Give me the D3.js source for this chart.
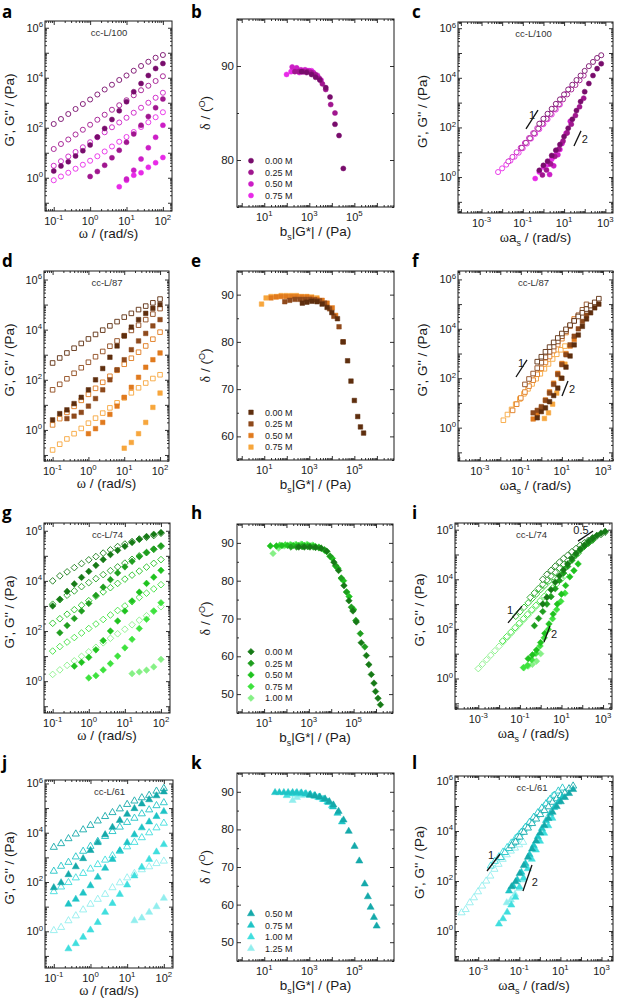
<!DOCTYPE html>
<html><head><meta charset="utf-8">
<script src="https://cdn.jsdelivr.net/npm/d3@7"></script>
<style>body{margin:0;background:#fff}svg{display:block}</style>
</head><body>
<svg id="fig" width="618" height="1000"></svg>
<script>
// ---------------- DATA ----------------
const freq = [0.1,0.158,0.251,0.398,0.631,1,1.58,2.51,3.98,6.31,10,15.8,25.1,39.8,63.1,100];

// ---- cc-L/100 (row 1) ; moduli given as log10(Pa)
const salt1 = ["0.00 M","0.25 M","0.50 M","0.75 M"];
const logGpp1 = [
 [2.15,2.35,2.55,2.75,2.95,3.13,3.33,3.53,3.72,3.91,4.09,4.28,4.47,4.64,4.80,4.91],
 [1.15,1.35,1.53,1.73,1.92,2.12,2.32,2.52,2.72,2.90,3.10,3.30,3.50,3.68,3.87,4.06],
 [0.48,0.66,0.85,1.03,1.22,1.42,1.62,1.82,2.02,2.21,2.40,2.60,2.80,3.00,3.20,3.40],
 [-0.10,0.05,0.20,0.36,0.52,0.68,0.86,1.05,1.25,1.44,1.63,1.83,2.03,2.22,2.42,2.62]];
const logGp1 = [
 [0.27,0.47,0.64,0.87,1.08,1.31,1.63,1.97,2.33,2.68,3.04,3.44,3.77,4.09,4.37,4.57],
 [null,null,null,null,null,0.05,0.25,0.50,0.80,1.10,1.42,1.75,2.10,2.45,2.80,3.15],
 [null,null,null,null,null,null,null,null,null,null,-0.05,0.30,0.75,1.20,1.62,2.10],
 [null,null,null,null,null,null,null,null,null,-0.36,-0.10,0.10,0.20,0.42,0.60,0.81]];
const logA1 = [0.8,-0.05,-0.7,-1.2];    // log10 a_s
const logB1 = [0,0.03,0.15,0.3];        // log10 b_s
const dX1 = [
 [2.66,2.88,3.10,3.28,3.47,3.73,3.92,4.14,4.32,4.51],
 [2.36,2.54,2.73,2.91,3.09,3.27,3.44,3.58,3.73,3.95,4.14],
 [2.24,2.44,2.63,2.81,2.99,3.18,3.36,3.52],
 [1.99,2.19,2.36,2.56,2.73,2.93,3.10]];
const dY1 = [
 [89.4,89.3,89.1,88.8,88.5,87.7,86.7,83.8,82.6,79.1],
 [89.4,89.4,89.4,89.4,89.3,89.1,88.7,88.1,87.5,85.9,85.0],
 [89.9,89.8,89.6,89.6,89.5,89.3,89.0,88.5],
 [89.1,89.4,89.5,89.3,89.4,89.5,89.5]];

// ---- cc-L/87 (row 2)
const salt2 = ["0.00 M","0.25 M","0.50 M","0.75 M"];
const logGpp2 = [
 [2.67,2.87,3.07,3.26,3.45,3.63,3.81,3.98,4.15,4.32,4.50,4.65,4.80,4.94,5.07,5.22],
 [1.60,1.82,2.04,2.26,2.48,2.70,2.92,3.13,3.34,3.55,3.76,3.97,4.18,4.40,4.62,4.84],
 [0.20,0.45,0.70,0.94,1.18,1.42,1.66,1.90,2.14,2.38,2.62,2.86,3.10,3.35,3.62,3.90],
 [-0.80,-0.57,-0.36,-0.15,0.06,0.27,0.47,0.67,0.88,1.08,1.28,1.48,1.68,1.87,2.05,2.20]];
const logGp2 = [
 [0.40,0.65,0.80,1.05,1.30,1.60,2.00,2.45,2.90,3.35,3.75,4.10,4.40,4.65,4.85,5.00],
 [null,null,0.45,0.55,0.70,0.95,1.25,1.60,2.00,2.40,2.80,3.20,3.55,3.85,4.15,4.40],
 [null,null,null,null,null,-0.15,0.05,0.30,0.62,0.95,1.30,1.70,2.10,2.50,2.80,3.07],
 [null,null,null,null,null,null,null,null,null,null,-0.73,-0.50,-0.15,0.30,0.90,1.47]];
const logA2 = [0.8,0.2,-0.4,-0.85];
const logB2 = [0,0.15,0.5,1.1];
const dX2 = [
 [2.69,2.89,3.11,3.34,3.57,3.79,4.00,4.25,4.50,4.70,4.85,5.00,5.15,5.27,5.41],
 [1.91,2.13,2.36,2.58,2.80,3.02,3.24,3.46,3.68,3.90,4.09,4.32,4.50],
 [1.30,1.53,1.75,1.98,2.21,2.43,2.66,2.89,3.11,3.34,3.57,3.79,4.02,4.17],
 [0.88,1.08,1.30,1.53,1.75,1.98,2.21,2.43,2.66,2.89,3.11,3.34]];
const dY2 = [
 [88.2,88.4,88.6,88.5,88.0,87.3,86.2,84.9,80.0,76.0,71.7,67.6,64.2,62.0,60.7],
 [88.5,88.8,89.0,89.0,89.0,89.0,88.9,88.7,88.2,87.0,85.4,83.2,80.0],
 [89.3,89.5,89.6,89.6,89.6,89.6,89.5,89.5,89.3,89.0,88.8,88.2,87.2,85.6],
 [88.0,89.3,89.6,89.6,89.8,89.8,89.8,89.8,89.6,89.6,89.5,89.3]];

// ---- cc-L/74 (row 3)
const salt3 = ["0.00 M","0.25 M","0.50 M","0.75 M","1.00 M"];
const logGpp3 = [
 [4.00,4.20,4.36,4.53,4.69,4.84,4.97,5.11,5.24,5.37,5.47,5.57,5.67,5.74,5.81,5.90],
 [3.07,3.25,3.43,3.60,3.77,3.93,4.09,4.25,4.41,4.56,4.71,4.86,5.00,5.13,5.26,5.38],
 [2.31,2.49,2.67,2.85,3.03,3.21,3.39,3.56,3.73,3.90,4.07,4.23,4.39,4.55,4.70,4.85],
 [1.20,1.38,1.56,1.74,1.92,2.10,2.28,2.46,2.64,2.82,3.00,3.17,3.34,3.51,3.68,3.85],
 [0.27,0.45,0.63,0.81,0.99,1.17,1.35,1.53,1.71,1.89,2.07,2.25,2.43,2.61,2.79,2.97]];
const logGp3 = [
 [3.00,3.27,3.58,3.88,4.14,4.38,4.62,4.85,5.05,5.22,5.38,5.53,5.66,5.77,5.86,5.93],
 [null,1.93,2.22,2.50,2.80,3.10,3.42,3.75,4.05,4.32,4.56,4.78,4.97,5.13,5.27,5.40],
 [null,null,null,0.60,0.75,0.95,1.25,1.62,2.00,2.40,2.80,3.20,3.55,3.90,4.15,4.42],
 [null,null,null,null,null,0.13,0.22,0.45,0.70,1.00,1.33,1.67,2.10,2.47,2.80,3.13],
 [null,null,null,null,null,null,null,null,null,null,null,0.30,0.37,0.44,0.57,0.87]];
const logA3 = [1.1,0.5,-0.2,-0.83,-2.0];
const logB3 = [0,0.2,0.2,0.31,0.13];
const dX3 = [
 [2.55,2.80,3.05,3.30,3.55,3.80,4.12,4.33,4.57,4.79,4.97,5.12,5.34,5.57,5.68,5.79,5.91,5.98,6.09,6.20],
 [2.20,2.45,2.70,2.95,3.20,3.45,3.70,3.95,4.20,4.45,4.68,4.90,5.10,5.30,5.50],
 [1.28,1.55,1.80,2.05,2.30,2.55,2.80,3.05,3.30,3.55,3.80,4.05,4.30,4.55,4.80,5.00],
 [1.70,1.95,2.20,2.45,2.70,2.95,3.20,3.45,3.70,3.95,4.20,4.45,4.70],
 [1.40,1.65,1.90,2.15,2.40,2.65,2.90,3.15]];
const dY3 = [
 [88.9,88.9,88.9,88.8,88.6,87.8,84.9,82.7,78.7,74.7,72.0,69.1,63.6,60.2,57.8,55.2,52.9,50.7,48.9,47.2],
 [88.9,88.9,89.0,89.0,88.9,88.7,88.2,86.5,84.0,80.7,77.0,73.0,69.5,66.0,62.5],
 [89.2,89.2,89.3,89.3,89.3,89.3,89.3,89.2,89.0,88.6,87.7,85.9,83.3,80.0,75.8,72.4],
 [89.4,89.5,89.5,89.5,89.6,89.5,89.3,88.9,88.0,86.4,83.8,80.6,77.0],
 [87.2,88.6,89.2,89.5,89.6,89.7,89.6,89.4]];

// ---- cc-L/61 (row 4)
const salt4 = ["0.50 M","0.75 M","1.00 M","1.25 M"];
const logGpp4 = [
 [3.41,3.56,3.76,3.95,4.12,4.30,4.48,4.66,4.82,4.97,5.15,5.29,5.42,5.52,5.69,5.80],
 [2.44,2.64,2.80,3.02,3.25,3.45,3.65,3.85,4.05,4.23,4.42,4.59,4.77,4.93,5.10,5.22],
 [1.61,1.80,1.98,2.17,2.35,2.53,2.71,2.89,3.07,3.25,3.43,3.61,3.80,4.00,4.20,4.39],
 [0.03,0.16,0.43,0.63,0.87,1.10,1.30,1.50,1.77,1.97,2.17,2.35,2.50,2.62,2.75,2.85]];
const logGp4 = [
 [1.77,1.97,2.30,2.62,2.95,3.28,3.60,3.92,4.22,4.50,4.75,4.98,5.17,5.34,5.50,5.66],
 [null,null,1.10,1.30,1.55,1.85,2.20,2.56,2.92,3.27,3.60,3.92,4.20,4.44,4.66,4.86],
 [null,null,-0.71,-0.50,-0.24,0.05,0.36,0.77,1.13,1.50,1.88,2.25,2.60,2.92,3.22,3.52],
 [null,null,null,null,null,null,null,null,null,null,null,0.43,0.54,0.77,1.00,1.34]];
const logA4 = [-0.38,-0.9,-1.39,-2.81];
const logB4 = [0,0.5,0.99,0.7];
const dX4 = [
 [3.02,3.25,3.47,3.70,3.89,4.07,4.30,4.52,4.75,5.01,5.22,5.46,5.60,5.72,5.87,5.99],
 [1.48,1.67,1.87,2.06,2.26,2.45,2.65,2.85,3.05,3.25,3.45,3.65,3.85,4.05,4.25,4.45],
 [2.00,2.20,2.40,2.60,2.80,3.00,3.20,3.40,3.60,3.80,4.00],
 [2.26,2.45,2.65,2.85,3.05,3.25,3.45]];
const dY4 = [
 [89.1,88.9,88.6,88.1,87.4,86.5,84.8,82.5,79.5,75.5,71.6,65.5,62.1,59.3,56.6,54.3],
 [89.8,89.8,89.8,89.8,89.8,89.8,89.7,89.5,89.3,89.0,88.6,88.0,87.2,86.0,84.3,82.0],
 [89.0,89.4,89.5,89.5,89.4,89.2,88.9,88.5,88.0,87.3,86.3],
 [87.7,88.5,89.0,89.2,89.1,88.8,88.4]];

// slope guides on the master curves: [log x1, log y1, log x2, log y2], label, [log x, log y]
const guides1 = [[[-0.845,1.94,-0.264,2.70],"1",[-0.555,2.35]],[[1.48,1.25,1.82,1.86],"2",[2.01,1.38]]];
const guides2 = [[[-1.235,2.05,-0.699,2.74],"1",[-0.99,2.46]],[[1.006,1.28,1.298,1.89],"2",[1.49,1.40]]];
const guides3 = [[[-1.571,2.24,-0.897,2.92],"1",[-1.475,2.60]],[[0.161,1.47,0.449,2.12],"2",[0.64,1.63]],[[1.796,5.54,2.518,5.95],"0.5",[1.94,5.83]]];
const guides4 = [[[-2.573,2.40,-1.94,3.08],"1",[-2.38,2.87]],[[-0.821,1.60,-0.383,2.64],"2",[-0.24,1.80]]];

// ---------------- STYLE / LAYOUT ----------------
const rows = [
 {name:"cc-L/100", salt:salt1, gpp:logGpp1, gp:logGp1, la:logA1, lb:logB1, dx:dX1, dy:dY1, guides:guides1,
  colors:["#780c6c","#a0168f","#cc1ec6","#e82ae8"], sym:"circle",
  fr:[[45,21,172,211],[237,19,394,207],[458,22,613,213]], yl:[-1.33,6.27], yc:[-1.45,6.25], xc:[-4.14,3.37], dd:[75,95],
  letters:["a","b","c"], ly:18, legY:160.7},
 {name:"cc-L/87", salt:salt2, gpp:logGpp2, gp:logGp2, la:logA2, lb:logB2, dx:dX2, dy:dY2, guides:guides2,
  colors:["#5e2e0e","#8f4a1c","#e07a1e","#f7a63c"], sym:"square",
  fr:[[44,271,169,461],[237,271,394,460],[458,271,613,461]], yl:[-1.24,6.34], yc:[-1.35,6.34], xc:[-4.06,3.49], dd:[55,95],
  letters:["d","e","f"], ly:267, legY:412.3},
 {name:"cc-L/74", salt:salt3, gpp:logGpp3, gp:logGp3, la:logA3, lb:logB3, dx:dX3, dy:dY3, guides:guides3,
  colors:["#167a16","#1f9e1f","#1fc21f","#3ee23e","#86f086"], sym:"diamond",
  fr:[[44,523,170,713],[237,524,393,713],[455,523,612,709]], yl:[-1.27,6.31], yc:[-1.23,6.27], xc:[-4.12,3.43], dd:[45,95],
  letters:["g","h","i"], ly:519, legY:651.7},
 {name:"cc-L/61", salt:salt4, gpp:logGpp4, gp:logGp4, la:logA4, lb:logB4, dx:dX4, dy:dY4, guides:guides4,
  colors:["#15a9aa","#1fc4c6","#40dede","#92eeee"], sym:"triangle",
  fr:[[45,780,173,968],[237,773,394,961],[455,776,613,961]], yl:[-1.49,6.14], yc:[-1.2,6.2], xc:[-4.13,3.56], dd:[45,95],
  letters:["j","k","l"], ly:769, legY:913.7}
];

const FONT = "'Liberation Sans', Arial, Helvetica, sans-serif";
const SERIF = "'Liberation Serif','DejaVu Serif',serif";
const INK = "#1a1a1a";
const svg = d3.select("#fig");
svg.append("rect").attr("width",618).attr("height",1000).attr("fill","#fff");

const diamondSym = {draw(ctx,size){const r=Math.sqrt(size/2);ctx.moveTo(0,-r);ctx.lineTo(r,0);ctx.lineTo(0,r);ctx.lineTo(-r,0);ctx.closePath();}};
const symType = {circle:[d3.symbolCircle,20], square:[d3.symbolSquare,21], diamond:[diamondSym,22], triangle:[d3.symbolTriangle,22]};

function minorLog(lo,hi){const v=[];for(let n=Math.floor(lo);n<=Math.ceil(hi);n++)for(let m=2;m<=9;m++){const e=n+Math.log10(m);if(e>lo&&e<hi)v.push(m*Math.pow(10,n));}return v;}
function majorLog(lo,hi){const v=[];for(let n=Math.ceil(lo);n<=Math.floor(hi);n++)v.push(Math.pow(10,n));return v;}

function ticks(g, scale, orient, vals, size, tr){
  const fn = {bottom:d3.axisBottom,top:d3.axisTop,left:d3.axisLeft,right:d3.axisRight}[orient];
  const a = fn(scale).tickValues(vals).tickSizeInner(-size).tickSizeOuter(0).tickFormat("");
  const gg = g.append("g").attr("transform",tr).call(a);
  gg.select(".domain").remove();
  gg.selectAll("line").attr("stroke",INK).attr("stroke-width",0.9);
}
function powLabel(g, x, y, exp, anchor){
  const t = g.append("text").attr("x",x).attr("y",y).attr("text-anchor",anchor)
    .attr("font-family",FONT).attr("font-size",11).attr("fill",INK);
  t.append("tspan").text("10");
  t.append("tspan").attr("dy",-4.6).attr("font-size",7.8).text(exp);
  return t;
}
function frameAxes(g, fr, x, y, yLog, xDom, yDom, xLab, yLab){
  const [x0,y0,x1,y1]=fr;
  let yMaj, yMin;
  const xMaj=majorLog(xDom[0],xDom[1]), xMin=minorLog(xDom[0],xDom[1]);
  if(yLog){yMaj=majorLog(yDom[0],yDom[1]);yMin=minorLog(yDom[0],yDom[1]);}
  else{yMaj=d3.range(Math.ceil(yDom[0]/10)*10,yDom[1]+0.1,10);yMin=d3.range(Math.ceil(yDom[0]/5)*5,yDom[1]+0.1,5).filter(v=>v%10!==0);}
  ticks(g,x,"bottom",xMaj,4,`translate(0,${y1})`);
  ticks(g,x,"bottom",xMin,2,`translate(0,${y1})`);
  ticks(g,x,"top",xMaj,4,`translate(0,${y0})`);
  ticks(g,x,"top",xMin,2,`translate(0,${y0})`);
  ticks(g,y,"left",yMaj,4,`translate(${x0},0)`);
  ticks(g,y,"left",yMin,2,`translate(${x0},0)`);
  ticks(g,y,"right",yMaj,4,`translate(${x1},0)`);
  ticks(g,y,"right",yMin,2,`translate(${x1},0)`);
  g.append("rect").attr("x",x0).attr("y",y0).attr("width",x1-x0).attr("height",y1-y0)
    .attr("fill","none").attr("stroke",INK).attr("stroke-width",1);
  xLab.forEach(e=>powLabel(g,x(Math.pow(10,e)),y1+13.5,(e<0?"-":"")+Math.abs(e),"middle"));
  if(yLog) yLab.forEach(e=>powLabel(g,x0-2,y(Math.pow(10,e))+4,String(e),"end"));
  else yMaj.forEach(v=>g.append("text").attr("x",x0-3).attr("y",y(v)+4).attr("text-anchor","end")
      .attr("font-family",FONT).attr("font-size",11.5).attr("fill",INK).text(v));
}
function clip(fr,id){
  svg.append("clipPath").attr("id",id).append("rect").attr("x",fr[0]).attr("y",fr[1]).attr("width",fr[2]-fr[0]).attr("height",fr[3]-fr[1]);
  return `url(#${id})`;
}
function marks(g, pts, symName, color, open){
  const [type,size] = symType[symName];
  const sym = d3.symbol().type(type).size(size);
  g.selectAll(null).data(pts).join("path")
    .attr("transform",d=>`translate(${d[0]},${d[1]})`).attr("d",sym)
    .attr("fill",open?"#fff":color).attr("stroke",color).attr("stroke-width",open?0.9:0.5);
}
function yTitle(cx,cy,parts){
  const t=svg.append("text").attr("transform",`translate(${cx},${cy}) rotate(-90)`).attr("text-anchor","middle")
    .attr("font-family",FONT).attr("font-size",13.5).attr("fill",INK);
  parts(t); return t;
}
function xTitle(cx,y,parts){
  const t=svg.append("text").attr("x",cx).attr("y",y).attr("text-anchor","middle")
    .attr("font-family",FONT).attr("font-size",13.5).attr("fill",INK);
  parts(t); return t;
}
const gLabel = t=>{t.text("G', G'' / (Pa)");};

rows.forEach((R,ri)=>{
  const n = R.salt.length;
  // ----- left: frequency sweep
  {
    const fr=R.fr[0], g=svg.append("g");
    const xd=[-1.24,2.25];
    const x=d3.scaleLog().domain(xd.map(e=>10**e)).range([fr[0],fr[2]]);
    const y=d3.scaleLog().domain(R.yl.map(e=>10**e)).range([fr[3],fr[1]]);
    frameAxes(g,fr,x,y,true,xd,R.yl,[-1,0,1,2],[0,2,4,6]);
    const pg=g.append("g").attr("clip-path",clip(fr,"c"+ri+"a"));
    for(let k=n-1;k>=0;k--){
      marks(pg, freq.map((f,i)=>R.gpp[k][i]==null?null:[x(f),y(10**R.gpp[k][i])]).filter(Boolean), R.sym, R.colors[k], true);
    }
    for(let k=n-1;k>=0;k--){
      marks(pg, freq.map((f,i)=>R.gp[k][i]==null?null:[x(f),y(10**R.gp[k][i])]).filter(Boolean), R.sym, R.colors[k], false);
    }
    g.append("text").attr("x",(fr[0]+fr[2])/2+0.5).attr("y",fr[1]+15).attr("text-anchor","middle")
      .attr("font-family",FONT).attr("font-size",9.5).attr("fill","#333").text(R.name);
    yTitle(14,(fr[1]+fr[3])/2-6,gLabel);
    xTitle((fr[0]+fr[2])/2,fr[3]+27,t=>{t.append("tspan").attr("font-family",SERIF).attr("font-size",14).text("ω");t.append("tspan").text(" / (rad/s)");});
  }
  // ----- middle: phase angle vs reduced complex modulus
  {
    const fr=R.fr[1], g=svg.append("g");
    const xd=[-0.21,6.76];
    const x=d3.scaleLog().domain(xd.map(e=>10**e)).range([fr[0],fr[2]]);
    const y=d3.scaleLinear().domain(R.dd).range([fr[3],fr[1]]);
    frameAxes(g,fr,x,y,false,xd,R.dd,[1,3,5],null);
    const pg=g.append("g").attr("clip-path",clip(fr,"c"+ri+"b"));
    for(let k=n-1;k>=0;k--){
      marks(pg, R.dx[k].map((v,i)=>[x(10**v),y(R.dy[k][i])]), R.sym, R.colors[k], false);
    }
    R.salt.forEach((s,k)=>{
      const yy=R.legY+k*11.6;
      marks(g,[[fr[0]+14,yy]],R.sym,R.colors[k],false);
      g.append("text").attr("x",fr[0]+28).attr("y",yy+3.2).attr("font-family",FONT).attr("font-size",9)
        .attr("fill",INK).text(s);
    });
    yTitle(210,(fr[1]+fr[3])/2,t=>{t.append("tspan").attr("font-family",SERIF).attr("font-size",14).text("δ");
      t.append("tspan").text(" / (");t.append("tspan").attr("dy",-5).attr("font-size",9).text("O");
      t.append("tspan").attr("dy",5).text(")");});
    xTitle((fr[0]+fr[2])/2,fr[3]+29,t=>{t.append("tspan").text("b");t.append("tspan").attr("dy",3.5).attr("font-size",9).text("s");
      t.append("tspan").attr("dy",-3.5).text("|G*| / (Pa)");});
  }
  // ----- right: master curve (left-panel data shifted by a_s, b_s)
  {
    const fr=R.fr[2], g=svg.append("g");
    const x=d3.scaleLog().domain(R.xc.map(e=>10**e)).range([fr[0],fr[2]]);
    const y=d3.scaleLog().domain(R.yc.map(e=>10**e)).range([fr[3],fr[1]]);
    frameAxes(g,fr,x,y,true,R.xc,R.yc,[-3,-1,1,3],[0,2,4,6]);
    const pg=g.append("g").attr("clip-path",clip(fr,"c"+ri+"c"));
    for(let k=n-1;k>=0;k--){
      marks(pg, freq.map((f,i)=>R.gpp[k][i]==null?null:[x(f*10**R.la[k]),y(10**(R.gpp[k][i]+R.lb[k]))]).filter(Boolean), R.sym, R.colors[k], true);
    }
    for(let k=n-1;k>=0;k--){
      marks(pg, freq.map((f,i)=>R.gp[k][i]==null?null:[x(f*10**R.la[k]),y(10**(R.gp[k][i]+R.lb[k]))]).filter(Boolean), R.sym, R.colors[k], false);
    }
    R.guides.forEach(([p,lab,tp])=>{
      g.append("line").attr("x1",x(10**p[0])).attr("y1",y(10**p[1])).attr("x2",x(10**p[2])).attr("y2",y(10**p[3]))
        .attr("stroke","#111").attr("stroke-width",1.3);
      g.append("text").attr("x",x(10**tp[0])).attr("y",y(10**tp[1])).attr("text-anchor","middle")
        .attr("font-family",FONT).attr("font-size",11).attr("fill",INK).text(lab);
    });
    g.append("text").attr("x",(fr[0]+fr[2])/2-2).attr("y",fr[1]+15).attr("text-anchor","middle")
      .attr("font-family",FONT).attr("font-size",9.5).attr("fill","#333").text(R.name);
    yTitle(fr[0]-31,(fr[1]+fr[3])/2-6,gLabel);
    xTitle((fr[0]+fr[2])/2,fr[3]+29,t=>{t.append("tspan").attr("font-family",SERIF).attr("font-size",14).text("ω");t.append("tspan").text("a");
      t.append("tspan").attr("dy",3.5).attr("font-size",9).text("s");t.append("tspan").attr("dy",-3.5).text(" / (rad/s)");});
  }
  [[2,R.ly],[191,R.ly],[412,R.ly]].forEach((p,j)=>{
    svg.append("text").attr("x",p[0]).attr("y",p[1]).attr("font-family","'Open Sans','DejaVu Sans',sans-serif")
      .attr("font-weight","bold").attr("font-size",17).attr("fill","#000").text(R.letters[j]);
  });
});
</script>
</body></html>
